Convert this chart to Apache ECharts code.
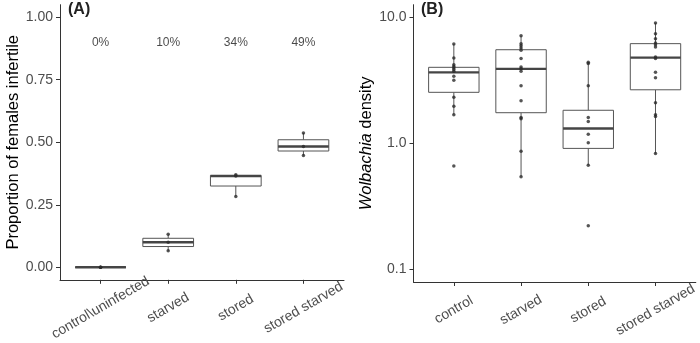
<!DOCTYPE html>
<html>
<head>
<meta charset="utf-8">
<script src="https://cdn.jsdelivr.net/npm/echarts@6/dist/echarts.min.js"></script>
<style>
html, body { margin: 0; padding: 0; background: #fff; }
#chart { width: 700px; height: 343px; }
</style>
</head>
<body>
<div id="chart"></div>
<script>
// panel A
var catsA = ['control\\uninfected', 'starved', 'stored', 'stored starved'];
var pctLabels = ['0%', '10%', '34%', '49%'];
var pctY = 0.9;
var infertileControl = [0, 0, 0];
var infertileStarved = [0.066, 0.100, 0.132];
var infertileStored = [0.283, 0.365, 0.370];
var infertileStoredStarved = [0.447, 0.483, 0.537];
// [min, q1, median, q3, max]
var boxA = [
	[0, 0, 0, 0, 0],
	[0.066, 0.083, 0.100, 0.116, 0.132],
	[0.283, 0.325, 0.365, 0.367, 0.370],
	[0.447, 0.465, 0.483, 0.510, 0.537]
];
var ticksA = [0, 0.25, 0.5, 0.75, 1];

// panel B
var catsB = ['control', 'starved', 'stored', 'stored starved'];
var densControl = [6.14, 4.76, 4.21, 4.08, 3.97, 3.85, 3.73, 3.40, 3.17, 2.32, 1.97, 1.69, 0.66];
var densStarved = [7.14, 6.18, 5.96, 5.71, 5.47, 4.72, 4.04, 3.90, 3.73, 2.87, 2.18, 1.60, 1.57, 0.865, 0.543];
var densStored = [4.39, 4.31, 2.87, 1.60, 1.49, 1.18, 1.01, 0.67, 0.222];
var densStoredStarved = [9.0, 7.41, 6.76, 6.25, 6.06, 5.81, 4.85, 4.72, 3.66, 3.32, 2.10, 1.69, 1.63, 0.83];
var boxB = [
	[1.69, 2.54, 3.66, 4.01, 6.14],
	[0.543, 1.75, 3.90, 5.53, 7.14],
	[0.67, 0.912, 1.31, 1.83, 4.39],
	[0.83, 2.66, 4.79, 6.18, 9.0]
];
var ticksB = [0.1, 1, 10];

var FONT = 'Liberation Sans, Arial, sans-serif';
var BOX_W = 0.75;

function ident(v) { return v; }
function lg(v) { return Math.log(v) / Math.LN10; }

function renderBox(params, api) {
	var x = api.value(0);
	var lo = api.coord([x, api.value(1)]);
	var q1 = api.coord([x, api.value(2)]);
	var md = api.coord([x, api.value(3)]);
	var q3 = api.coord([x, api.value(4)]);
	var hi = api.coord([x, api.value(5)]);
	var l = api.coord([x - BOX_W / 2, api.value(3)])[0];
	var r = api.coord([x + BOX_W / 2, api.value(3)])[0];
	var stroke = { stroke: '#555', lineWidth: 1, fill: null };
	return {
		type: 'group',
		children: [
			{ type: 'line', shape: { x1: lo[0], y1: lo[1], x2: q1[0], y2: q1[1] }, style: stroke },
			{ type: 'line', shape: { x1: q3[0], y1: q3[1], x2: hi[0], y2: hi[1] }, style: stroke },
			{ type: 'rect', shape: { x: l, y: q3[1], width: r - l, height: q1[1] - q3[1] },
				style: { fill: '#fff', stroke: '#555', lineWidth: 1 } },
			{ type: 'line', shape: { x1: l, y1: md[1], x2: r, y2: md[1] },
				style: { stroke: '#454545', lineWidth: 2.4 } }
		]
	};
}

function boxSeries(idx, boxes, tf) {
	return {
		type: 'custom',
		xAxisIndex: idx,
		yAxisIndex: idx,
		silent: true,
		z: 2,
		data: boxes.map(function(b, i) { return [i].concat(b.map(tf)); }),
		renderItem: renderBox
	};
}

function pointSeries(idx, groups, tf) {
	var pts = [];
	for (var i = 0; i < groups.length; i++) {
		for (var j = 0; j < groups[i].length; j++) {
			pts.push([i, tf(groups[i][j])]);
		}
	}
	return {
		type: 'scatter',
		xAxisIndex: idx,
		yAxisIndex: idx,
		silent: true,
		z: 3,
		symbolSize: 3.5,
		itemStyle: { color: '#2a2a2a' },
		data: pts
	};
}

function xAxisFor(idx, cats) {
	return {
		type: 'value',
		gridIndex: idx,
		min: -0.6,
		max: 3.6,
		axisLine: { show: true, onZero: false, lineStyle: { color: '#333', width: 1 } },
		axisTick: { show: true, length: 4, customValues: [0, 1, 2, 3], lineStyle: { color: '#333' } },
		axisLabel: {
			customValues: [0, 1, 2, 3],
			rotate: 30,
			align: 'center',
			verticalAlign: 'middle',
			margin: 28,
			color: '#4d4d4d',
			fontSize: 14,
			fontFamily: FONT,
			formatter: function(v) { return cats[Math.round(v)]; }
		},
		splitLine: { show: false }
	};
}

function yAxisFor(idx, min, max, ticks, fmt, name, gap) {
	return {
		type: 'value',
		gridIndex: idx,
		min: min,
		max: max,
		name: name,
		nameLocation: 'middle',
		nameGap: gap,
		nameTextStyle: {
			color: '#000',
			fontSize: 16.5,
			fontFamily: FONT,
			rich: { i: { fontStyle: 'italic', fontSize: 16.5, fontFamily: FONT, color: '#000' } }
		},
		axisLine: { show: true, onZero: false, lineStyle: { color: '#333', width: 1 } },
		axisTick: { show: true, length: 4, customValues: ticks, lineStyle: { color: '#333' } },
		axisLabel: {
			customValues: ticks,
			margin: 7,
			color: '#4d4d4d',
			fontSize: 14,
			fontFamily: FONT,
			formatter: fmt
		},
		splitLine: { show: false }
	};
}

var myChart = echarts.init(document.getElementById('chart'));
var option = {
	animation: false,
	backgroundColor: '#fff',
	grid: [
		{ left: 60, top: 4.7, width: 284, height: 277.3 },
		{ left: 413.5, top: 4.7, width: 284, height: 277.3 }
	],
	xAxis: [xAxisFor(0, catsA), xAxisFor(1, catsB)],
	yAxis: [
		yAxisFor(0, -0.05, 1.05, ticksA, function(v) { return v.toFixed(2); },
			'Proportion of females infertile', 38),
		yAxisFor(1, -1.1, 1.1, ticksB.map(lg), function(v) { return Math.pow(10, v).toFixed(1); },
			'{i|Wolbachia} density', 37)
	],
	graphic: [
		{ type: 'text', left: 68, top: 2, style: { text: '(A)', font: 'bold 16px ' + FONT, fill: '#222' } },
		{ type: 'text', left: 421, top: 2, style: { text: '(B)', font: 'bold 16px ' + FONT, fill: '#222' } }
	],
	series: [
		boxSeries(0, boxA, ident),
		pointSeries(0, [infertileControl, infertileStarved, infertileStored, infertileStoredStarved], ident),
		{
			type: 'scatter',
			xAxisIndex: 0,
			yAxisIndex: 0,
			silent: true,
			symbolSize: 0,
			data: pctLabels.map(function(t, i) { return [i, pctY]; }),
			label: {
				show: true,
				position: 'inside',
				color: '#1a1a1a',
				fontSize: 12,
				fontFamily: FONT,
				formatter: function(p) { return pctLabels[p.dataIndex]; }
			}
		},
		boxSeries(1, boxB, lg),
		pointSeries(1, [densControl, densStarved, densStored, densStoredStarved], lg)
	]
};
myChart.setOption(option);
</script>
</body>
</html>
